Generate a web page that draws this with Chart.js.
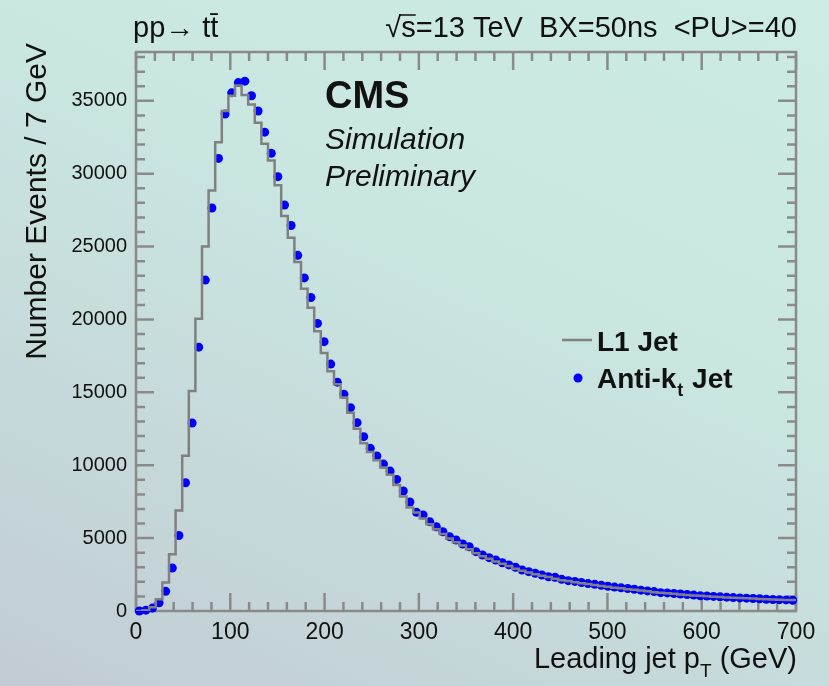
<!DOCTYPE html>
<html>
<head>
<meta charset="utf-8">
<script src="https://cdn.jsdelivr.net/npm/chart.js@4.4.0/dist/chart.umd.min.js"></script>
<style>
html, body { margin: 0; padding: 0; }
body {
    width: 829px; height: 686px; overflow: hidden;
    background: linear-gradient(205deg, #cdebe5 0%, #c9e6e1 40%, #c6d9da 70%, #c1ccd3 100%);
}
</style>
</head>
<body>
<canvas id="chart" width="829" height="686"></canvas>
<script>
// leading jet pT, 7 GeV bins from 0 to 700
const binWidth = 7;
const xTicks = [0, 100, 200, 300, 400, 500, 600, 700];
const yTicks = [0, 5000, 10000, 15000, 20000, 25000, 30000, 35000];

// L1 jet histogram (bin contents, lower edge = 7*i)
const l1Jet = [
    0, 0, 50, 250, 800, 1950, 3900, 6900, 10650, 15100,
    20050, 25000, 28850, 32150, 34300, 35350, 36050, 35400, 34750, 33500,
    32050, 30900, 29200, 27100, 25600, 23950, 22100, 20800, 19200, 17700,
    16450, 15550, 14650, 13600, 12500, 11500, 10900, 10350, 9850, 9350,
    8650, 7850, 7100, 6750, 6350, 5950, 5600, 5280, 4980, 4720,
    4500, 4230, 3960, 3760, 3590, 3400, 3240, 3080, 2900, 2760,
    2640, 2520, 2410, 2340, 2220, 2110, 2050, 1980, 1900, 1850,
    1780, 1720, 1660, 1600, 1560, 1500, 1450, 1400, 1350, 1290,
    1250, 1210, 1180, 1140, 1100, 1060, 1040, 1010, 980, 960,
    930, 910, 890, 870, 850, 820, 800, 790, 770, 750
];

// anti-kt jets (bin centres)
const antiKt = [
    0, 60, 200, 560, 1350, 2950, 5180, 8800, 12900, 18100,
    22700, 27650, 31050, 34100, 35550, 36250, 36350, 35350, 34300, 32850,
    31400, 29800, 27850, 26450, 24400, 22850, 21510, 19730, 18480, 16940,
    15700, 14870, 13950, 12920, 11960, 11160, 10630, 10080, 9600, 9030,
    8230, 7480, 6770, 6590, 6130, 5780, 5440, 5100, 4870, 4600,
    4410, 4070, 3840, 3660, 3500, 3310, 3160, 3000, 2810, 2700,
    2590, 2470, 2350, 2310, 2170, 2080, 2030, 1950, 1880, 1830,
    1760, 1700, 1640, 1590, 1540, 1490, 1430, 1380, 1330, 1260,
    1240, 1200, 1170, 1130, 1090, 1050, 1030, 1000, 970, 950,
    920, 900, 880, 860, 840, 810, 790, 780, 760, 740
];

const FONT = "'Liberation Sans', Arial, Helvetica, sans-serif";
const AXIS = "#8a8a8a";

const histPts = l1Jet.map((v, i) => ({ x: i * binWidth, y: v }));
histPts.push({ x: l1Jet.length * binWidth, y: l1Jet[l1Jet.length - 1] });
const dotPts = antiKt.map((v, i) => ({ x: (i + 0.5) * binWidth, y: v }));

// ROOT style frame with inward ticks on all four sides
const frame = {
    id: "frame",
    beforeDatasetsDraw(chart) {
        const { ctx, chartArea: a, scales: { x, y } } = chart;
        ctx.save();
        ctx.strokeStyle = AXIS;
        ctx.lineWidth = 2.5;
        ctx.beginPath();
        for (let v = 0; v <= x.max; v += 20) {
            const px = x.getPixelForValue(v), len = v % 100 ? 9 : 18;
            ctx.moveTo(px, a.bottom); ctx.lineTo(px, a.bottom - len);
            ctx.moveTo(px, a.top); ctx.lineTo(px, a.top + len);
        }
        for (let v = 0; v <= y.max; v += 1000) {
            const py = y.getPixelForValue(v), len = v % 5000 ? 9 : 18;
            ctx.moveTo(a.left, py); ctx.lineTo(a.left + len, py);
            ctx.moveTo(a.right, py); ctx.lineTo(a.right - len, py);
        }
        ctx.stroke();
        ctx.strokeRect(a.left, a.top, a.right - a.left, a.bottom - a.top);
        ctx.restore();
    }
};

const labels = {
    id: "labels",
    afterDraw(chart) {
        const { ctx, chartArea: a } = chart;
        ctx.save();
        ctx.fillStyle = "#111";
        ctx.strokeStyle = "#111";
        ctx.textBaseline = "alphabetic";

        // header
        ctx.font = "29px " + FONT;
        ctx.textAlign = "left";
        ctx.fillText("pp\u2192 tt\u0304", 133, 37);
        const head = "\u221As=13 TeV  BX=50ns  <PU>=40";
        const hx = 797 - ctx.measureText(head).width;
        ctx.fillText(head, hx, 37);
        const rw = ctx.measureText("\u221A").width, sw = ctx.measureText("s").width;
        ctx.lineWidth = 1.5;
        ctx.beginPath(); ctx.moveTo(hx + rw - 2, 15); ctx.lineTo(hx + rw + sw, 15); ctx.stroke();

        // CMS label
        ctx.font = "bold 38px " + FONT;
        ctx.fillText("CMS", 325, 108);
        ctx.font = "italic 30px " + FONT;
        ctx.fillText("Simulation", 325, 149);
        ctx.fillText("Preliminary", 325, 186);

        // legend
        ctx.strokeStyle = "#808080";
        ctx.lineWidth = 2.5;
        ctx.beginPath(); ctx.moveTo(562, 340); ctx.lineTo(592, 340); ctx.stroke();
        ctx.font = "bold 28px " + FONT;
        ctx.fillText("L1 Jet", 597, 351);
        ctx.fillStyle = "#0000ff";
        ctx.beginPath(); ctx.arc(578, 378, 4.5, 0, Math.PI * 2); ctx.fill();
        ctx.fillStyle = "#111";
        let tx = 597;
        ctx.fillText("Anti-k", tx, 388); tx += ctx.measureText("Anti-k").width;
        ctx.font = "bold 18px " + FONT;
        ctx.fillText("t", tx + 1, 396); tx += ctx.measureText("t").width + 2;
        ctx.font = "bold 28px " + FONT;
        ctx.fillText(" Jet", tx, 388);

        // x title, right aligned to the frame
        ctx.font = "29px " + FONT;
        const p1 = "Leading jet p", p3 = " (GeV)";
        const w1 = ctx.measureText(p1).width, w3 = ctx.measureText(p3).width;
        ctx.font = "19px " + FONT;
        const w2 = ctx.measureText("T").width;
        let sx = a.right + 1 - (w1 + w2 + w3);
        ctx.font = "29px " + FONT;
        ctx.fillText(p1, sx, 668);
        ctx.font = "19px " + FONT;
        ctx.fillText("T", sx + w1, 677);
        ctx.font = "29px " + FONT;
        ctx.fillText(p3, sx + w1 + w2, 668);

        // y title, rotated, right aligned to top of frame
        ctx.font = "30px " + FONT;
        ctx.translate(46, 43);
        ctx.rotate(-Math.PI / 2);
        ctx.textAlign = "right";
        ctx.fillText("Number Events / 7 GeV", 0, 0);
        ctx.restore();
    }
};

new Chart(document.getElementById("chart"), {
    type: "line",
    data: {
        datasets: [
            {
                label: "L1 Jet",
                data: histPts,
                stepped: "after",
                borderColor: "#808080",
                borderWidth: 2.5,
                pointRadius: 0,
                fill: false
            },
            {
                label: "Anti-kt Jet",
                data: dotPts,
                showLine: false,
                pointRadius: 4.5,
                pointBackgroundColor: "#0000ff",
                pointBorderColor: "#0000ff",
                pointBorderWidth: 0,
                clip: false
            }
        ]
    },
    options: {
        responsive: false,
        animation: false,
        devicePixelRatio: 1,
        layout: { padding: { top: 52, right: 33, left: 0, bottom: 0 } },
        plugins: { legend: { display: false }, tooltip: { enabled: false } },
        scales: {
            x: {
                type: "linear", min: 0, max: 700,
                grid: { display: false, drawTicks: false },
                border: { display: false },
                afterBuildTicks: s => { s.ticks = xTicks.map(v => ({ value: v })); },
                afterFit: s => { s.height = 75; },
                ticks: { padding: 8, maxRotation: 0, color: "#111", font: { family: FONT, size: 23 }, callback: v => String(v) }
            },
            y: {
                min: 0, max: 38350,
                grid: { display: false, drawTicks: false },
                border: { display: false },
                afterBuildTicks: s => { s.ticks = yTicks.map(v => ({ value: v })); },
                afterFit: s => { s.width = 136; },
                ticks: { padding: 9, color: "#111", font: { family: FONT, size: 20 }, callback: v => String(v) }
            }
        }
    },
    plugins: [frame, labels]
});
</script>
</body>
</html>
